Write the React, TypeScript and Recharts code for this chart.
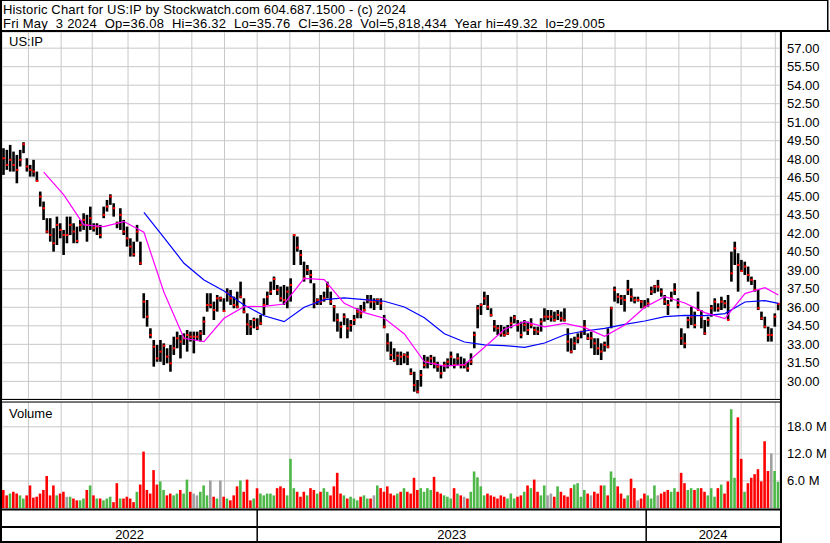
import { ComposedChart, Bar, Line, XAxis, YAxis, CartesianGrid, Cell, ReferenceDot } from 'recharts'

// two-day bars, May 2022 - May 3 2024
const highs = [
  48.89, 48.76, 49.16, 48.62, 48.35, 48.76, 49.38, 48.08, 47.54, 47.95,
  47.0, 45.38, 44.57, 43.22, 43.22, 42.41, 43.35, 42.81, 42.27, 43.35,
  43.35, 42.81, 42.54, 43.08, 43.62, 43.49, 44.16, 42.81, 42.81, 42.68,
  44.16, 44.7, 45.16, 44.43, 42.95, 44.03, 43.08, 42.54, 41.59, 41.32,
  42.68, 41.32, 37.14, 36.59, 34.3, 33.35, 32.95, 33.35, 33.08, 32.68,
  32.95, 33.62, 34.03, 33.76, 33.89, 34.16, 34.03, 34.03, 34.03, 34.16,
  35.24, 37.14, 37.14, 36.46, 37.0, 36.86, 36.73, 37.54, 37.41, 36.86,
  37.27, 38.08, 36.73, 35.51, 34.97, 35.16, 35.11, 35.38, 36.73, 37.27,
  38.08, 38.49, 37.81, 37.68, 37.81, 37.68, 38.35, 41.92, 41.73, 40.65,
  39.7, 39.43, 39.03, 37.95, 36.73, 37.0, 37.27, 38.08, 37.27, 36.19,
  35.51, 34.84, 35.51, 35.11, 34.97, 35.38, 35.92, 36.19, 36.46, 37.0,
  37.0, 36.73, 36.73, 36.73, 35.38, 33.89, 33.22, 32.68, 32.41,
  32.41, 32.27, 32.41, 31.05, 30.78, 30.11, 30.92, 32.14, 32.0, 32.14,
  32.0, 31.59, 31.32, 31.59, 31.86, 32.41, 31.86, 32.27, 32.0, 31.86,
  31.59, 32.27, 34.03, 36.19, 36.32, 37.27, 37.0, 35.92, 34.97, 34.57,
  34.57, 34.43, 34.57, 35.24, 35.38, 34.97, 34.84, 34.97, 34.84, 35.11,
  34.43, 34.43, 35.11, 35.92, 35.78, 35.78, 35.65, 35.78, 35.65, 35.92,
  34.3, 33.49, 33.62, 33.89, 34.03, 34.97, 33.89,
  34.03, 33.49, 33.49, 33.08, 33.22, 34.3, 36.05, 37.68, 37.14, 37.0,
  37.0, 38.22, 37.54, 36.86, 36.86, 36.59, 36.59, 36.73, 37.68, 37.81,
  38.22, 37.54, 37.0, 36.59, 37.27, 37.95, 36.73, 34.3, 33.89, 35.24,
  36.05, 35.65, 37.27, 35.78, 34.97, 35.24, 36.19, 36.73, 36.32, 36.86,
  36.59, 37.0, 40.51, 41.32, 40.38, 39.84, 39.7, 39.3, 38.49, 38.22,
  37.41, 35.65, 35.24, 34.43, 34.3, 35.51, 36.32,
]

const lows = [
  46.73, 47.14, 47.0, 47.0, 46.05, 47.41, 48.49, 47.0, 46.59, 46.59,
  46.19, 44.16, 43.08, 42.0, 41.32, 40.51, 41.05, 41.59, 40.24, 41.19,
  41.86, 41.19, 41.19, 42.14, 42.27, 41.32, 42.27, 42.14, 41.86, 41.59,
  43.22, 43.76, 44.3, 43.35, 42.41, 42.27, 41.86, 40.92, 40.11, 40.11,
  41.32, 39.43, 35.11, 34.43, 33.49, 31.19, 31.59, 31.59, 31.32, 31.46,
  30.78, 32.14, 32.68, 31.86, 32.95, 32.41, 33.22, 32.27, 33.35, 33.22,
  33.76, 35.65, 35.92, 34.97, 35.65, 36.46, 35.65, 36.46, 36.19, 35.92,
  35.92, 36.73, 35.51, 33.76, 33.76, 34.3, 34.16, 34.57, 35.38, 36.19,
  37.0, 37.41, 37.0, 36.46, 36.19, 35.92, 36.46, 39.43, 40.51, 39.43,
  38.08, 38.62, 37.95, 35.92, 36.19, 36.19, 36.46, 36.73, 36.19, 34.84,
  34.03, 33.49, 34.57, 33.49, 34.03, 34.57, 35.11, 35.11, 35.65, 36.32,
  35.92, 35.78, 36.19, 35.78, 34.3, 32.41, 31.73, 31.59, 31.32,
  31.32, 31.46, 31.32, 30.51, 29.16, 29.03, 29.57, 31.05, 31.05, 31.32,
  31.05, 30.78, 30.24, 30.78, 31.05, 31.32, 31.05, 31.32, 31.05, 31.05,
  30.78, 31.32, 32.68, 34.3, 35.38, 36.19, 35.78, 35.24, 34.03, 33.76,
  33.62, 33.62, 33.76, 34.3, 34.7, 34.03, 33.49, 34.03, 33.76, 34.3,
  33.76, 33.76, 34.03, 34.84, 34.97, 34.84, 34.84, 34.97, 34.84, 34.84,
  32.41, 32.27, 32.54, 33.08, 33.49, 33.76, 33.35,
  32.68, 32.14, 32.14, 31.73, 32.41, 32.68, 34.3, 36.46, 36.32, 36.19,
  35.65, 37.0, 36.46, 36.32, 36.46, 35.92, 35.92, 36.05, 37.0, 37.14,
  37.27, 36.86, 36.19, 35.38, 36.46, 37.0, 35.92, 32.95, 32.68, 34.3,
  34.57, 34.3, 35.78, 34.3, 33.76, 34.43, 35.24, 35.65, 35.65, 35.78,
  35.92, 34.97, 38.08, 39.43, 37.27, 38.89, 38.62, 38.08, 37.81, 37.27,
  35.78, 34.97, 34.3, 33.22, 33.22, 34.43, 35.76,
]

const closes = [
  48.08, 47.54, 47.95, 47.54, 47.14, 47.95, 49.22, 47.41, 47.14, 47.0,
  46.24, 44.97, 44.03, 42.14, 41.86, 41.19, 42.68, 42.27, 41.86, 41.86,
  42.68, 42.14, 41.38, 42.68, 43.08, 42.68, 43.22, 42.41, 42.54, 41.86,
  43.49, 44.16, 44.97, 44.03, 42.81, 43.49, 42.14, 41.59, 40.92, 40.3,
  42.14, 39.57, 36.46, 35.24, 33.76, 32.81, 31.86, 32.41, 32.89, 32.0,
  31.46, 32.68, 33.49, 33.22, 33.49, 33.76, 33.62, 33.62, 33.62, 33.89,
  34.84, 36.19, 36.19, 35.78, 36.73, 36.73, 35.7, 37.14, 36.73, 36.19,
  36.05, 36.86, 35.65, 34.62, 34.43, 34.97, 34.35, 34.7, 36.19, 36.86,
  37.27, 38.3, 37.41, 36.73, 36.59, 37.27, 37.81, 41.86, 40.84, 40.24,
  38.35, 39.03, 38.62, 36.32, 36.59, 36.46, 36.73, 37.68, 36.46, 36.05,
  34.97, 34.43, 35.24, 34.3, 34.57, 34.97, 35.65, 35.51, 35.78, 36.59,
  36.46, 36.46, 36.59, 36.32, 34.43, 33.08, 32.14, 31.73, 32.08,
  32.0, 32.14, 32.0, 30.65, 29.7, 29.16, 30.51, 31.32, 31.59, 31.86,
  31.46, 31.19, 30.65, 31.32, 31.59, 32.0, 31.32, 31.86, 31.32, 31.32,
  31.05, 31.59, 33.76, 35.92, 36.19, 36.73, 36.05, 35.38, 34.43, 34.3,
  33.89, 33.76, 33.89, 34.7, 35.16, 34.57, 33.76, 34.57, 34.16, 34.57,
  34.16, 34.03, 34.84, 35.24, 35.24, 35.24, 34.97, 35.38, 35.11, 34.97,
  33.22, 32.41, 33.08, 33.49, 34.03, 34.43, 33.49,
  33.49, 33.08, 32.68, 32.41, 32.95, 32.81, 35.92, 37.41, 36.86, 36.73,
  36.59, 37.41, 36.86, 36.59, 36.59, 36.46, 36.05, 36.32, 37.27, 37.68,
  37.68, 37.27, 36.46, 36.19, 36.73, 37.41, 36.19, 33.49, 33.08, 34.97,
  35.24, 34.57, 35.78, 35.24, 33.89, 34.97, 35.92, 36.46, 35.92, 36.46,
  36.32, 34.97, 38.76, 40.78, 39.43, 38.95, 39.3, 38.62, 38.22, 37.41,
  35.92, 35.11, 34.43, 33.76, 33.76, 35.24, 36.28,
]

// millions of shares
const volumes = [
  4.0, 2.8, 3.2, 3.6, 3.2, 2.8, 2.1, 2.8, 5.0, 2.3,
  2.5, 3.2, 4.0, 7.1, 2.8, 5.0, 2.8, 3.2, 3.6, 2.5,
  2.5, 2.1, 1.7, 1.7, 2.1, 4.0, 5.0, 2.8, 2.1, 2.1,
  1.7, 2.1, 2.5, 1.3, 5.5, 2.1, 2.1, 2.5, 2.1, 1.3,
  3.6, 5.2, 12.5, 4.0, 3.2, 8.4, 5.2, 5.9, 4.0, 2.8,
  3.2, 2.8, 3.2, 4.0, 3.2, 6.3, 3.6, 3.2, 2.8, 3.6,
  5.0, 2.8, 6.1, 2.5, 2.1, 6.1, 2.5, 2.1, 1.7, 2.8,
  4.8, 6.1, 3.6, 6.3, 1.7, 2.1, 4.4, 3.2, 2.8, 3.2,
  3.2, 2.8, 4.4, 4.8, 4.4, 2.8, 10.9, 4.4, 3.6, 2.5,
  3.6, 2.8, 4.4, 4.0, 3.2, 3.6, 4.4, 3.6, 2.8, 4.8,
  7.8, 3.2, 2.8, 2.1, 2.5, 2.1, 1.7, 2.5, 2.8, 2.1,
  2.1, 2.8, 5.0, 4.4, 3.6, 4.8, 3.2, 2.8, 3.2, 3.6,
  4.4, 3.6, 3.2, 6.7, 4.0, 4.4, 3.6, 4.4, 4.0, 6.9,
  3.6, 3.2, 2.8, 2.5, 2.1, 4.4, 3.2, 2.8, 2.5, 2.1,
  3.6, 8.1, 6.8, 4.8, 2.8, 3.2, 2.8, 2.5, 2.1, 2.8,
  2.5, 2.1, 3.2, 2.1, 2.5, 2.8, 3.6, 5.0, 4.4, 6.3,
  3.6, 2.8, 5.0, 2.8, 3.2, 2.5, 4.8, 3.6, 2.8, 2.5,
  4.4, 5.2, 5.5, 2.5, 4.0, 3.2, 2.8, 3.6, 3.2, 5.0,
  5.0, 2.8, 8.1, 6.7, 4.8, 3.2, 2.1, 2.8, 6.5, 4.4,
  1.7, 2.1, 3.2, 2.8, 2.1, 5.0, 2.8, 3.2, 3.6, 4.0,
  3.6, 4.4, 3.6, 7.8, 5.5, 4.0, 4.4, 4.0, 4.4, 4.4,
  3.6, 2.8, 4.4, 2.5, 4.4, 5.2, 3.2, 5.9, 21.9, 6.7,
  20.1, 10.9, 3.6, 5.5, 6.7, 7.5, 8.6, 5.9, 14.8, 8.2, 12.1, 8.2, 5.8,
]

// moving averages read every maStep bars
const maStep = 6
const maFast = [
  null, null, 46.95, 45.11, 42.68, 42.54, 42.95, 42.08, 37.22, 33.49,
  33.22, 35.11, 36.05, 36.08, 36.27, 38.35, 38.24, 36.32, 35.57, 35.11,
  33.84, 31.59, 31.24, 31.35, 32.76, 34.22, 34.84, 34.41, 34.7, 34.35,
  33.65, 34.57, 36.0, 36.86, 36.35, 35.57, 35.08, 37.11, 37.59, 37.0,
]
const maSlow = [
  null, null, null, null, null, null, null, 43.7, 41.65, 39.57,
  38.22, 37.32, 36.19, 35.32, 34.84, 36.0, 36.62, 36.76, 36.62, 36.49,
  36.03, 35.16, 33.86, 33.19, 32.95, 32.89, 32.76, 33.11, 33.78, 34.08,
  34.3, 34.62, 34.89, 35.24, 35.35, 35.32, 35.49, 36.43, 36.54, 36.32,
]

const priceTicks = [30, 31.5, 33, 34.5, 36, 37.5, 39, 40.5, 42, 43.5, 45, 46.5, 48, 49.5, 51, 52.5, 54, 55.5, 57]
const volumeTicks = [6, 12, 18]

// trading-day index of the first session of each month (Jun 2022 .. May 2024)
const tradingDays = 500
const monthStarts = [17, 38, 58, 81, 101, 122, 143, 164, 185, 204, 226, 246, 268, 288, 308, 331, 350, 373, 394, 414, 435, 455, 475, 497]
const yearLabels = ['2022', '2023', '2024']
const yearStarts = [0, 164, 414]

const N = closes.length
// bars are spread evenly over the trading days
const rows: any[] = closes.map((c, i) => ({
  t: ((i + 0.5) * tradingDays) / N,
  range: [lows[i], highs[i]],
  close: c,
  vol: volumes[i],
  dir: i === 0 ? -1 : Math.sign(c - closes[i - 1]),
}))
maFast.forEach((v, k) => {
  if (v != null) rows[Math.min(k * maStep, N - 1)].fast = v
})
maSlow.forEach((v, k) => {
  if (v != null) rows[Math.min(k * maStep, N - 1)].slow = v
})

const yearEnds = [...yearStarts.slice(1), tradingDays]
const yearMids = yearStarts.map((s, k) => (s + yearEnds[k]) / 2)

const FONT = '"Liberation Sans", Arial, sans-serif'
const GRID = '#c8c8c8'
const HEADER_1 = 'Historic Chart for US:IP by Stockwatch.com 604.687.1500 - (c) 2024'
const HEADER_2 = 'Fri May  3 2024  Op=36.08  Hi=36.32  Lo=35.76  Cl=36.28  Vol=5,818,434  Year hi=49.32  lo=29.005'

function OhlcBar(props: any) {
  const { x, y, width, height, payload } = props
  if (x == null || y == null) return null
  const top = Math.min(y, y + height)
  const h = Math.max(Math.abs(height), 1)
  const [lo, hi] = payload.range
  const cx = x + width / 2
  const cy = hi === lo ? top : top + ((hi - payload.close) / (hi - lo)) * h
  return (
    <g>
      <rect x={cx - 1.3} y={top} width={2.6} height={h} fill="#000" />
      <rect x={cx - 1} y={cy - 1} width={2.5} height={2} fill="#ff0000" />
    </g>
  )
}

function PriceTick({ x, y, payload }: any) {
  return (
    <text x={x + 7} y={y} dy={4.5} fontSize={13} fontFamily={FONT} fill="#000">
      {Number(payload.value).toFixed(2)}
    </text>
  )
}

function VolumeTick({ x, y, payload }: any) {
  return (
    <text x={x + 7} y={y} dy={4.5} fontSize={13} fontFamily={FONT} fill="#000">
      {Number(payload.value).toFixed(1) + ' M'}
    </text>
  )
}

export default function App() {
  return (
    <div
      style={{
        position: 'absolute',
        left: 0,
        top: 0,
        width: 830,
        height: 543,
        background: '#fff',
        overflow: 'hidden',
        fontFamily: FONT,
      }}
    >
      <div style={{ position: 'absolute', left: 0, top: 32 }}>
        <ComposedChart width={830} height={367} data={rows} margin={{ top: 0, right: 0, bottom: 0, left: 2 }}>
          <XAxis dataKey="t" type="number" domain={[0, tradingDays]} ticks={monthStarts} allowDataOverflow hide />
          <YAxis
            orientation="right"
            type="number"
            width={50}
            domain={[28.57, 58.31]}
            ticks={priceTicks}
            interval={0}
            allowDataOverflow
            axisLine={false}
            tickLine={false}
            tickSize={0}
            tickMargin={0}
            tick={<PriceTick />}
          />
          <CartesianGrid stroke={GRID} strokeWidth={1} />
          <Bar dataKey="range" barSize={3} shape={<OhlcBar />} isAnimationActive={false} />
          <Line dataKey="slow" stroke="#0000ff" strokeWidth={1.2} dot={false} connectNulls isAnimationActive={false} />
          <Line dataKey="fast" stroke="#ff00ff" strokeWidth={1.2} dot={false} connectNulls isAnimationActive={false} />
        </ComposedChart>
      </div>

      <div style={{ position: 'absolute', left: 0, top: 402 }}>
        <ComposedChart width={830} height={141} data={rows} margin={{ top: 0, right: 0, bottom: 35, left: 2 }}>
          <XAxis dataKey="t" type="number" domain={[0, tradingDays]} ticks={monthStarts} allowDataOverflow hide />
          <YAxis
            orientation="right"
            type="number"
            width={50}
            domain={[0, 23.5]}
            ticks={volumeTicks}
            interval={0}
            allowDataOverflow
            axisLine={false}
            tickLine={false}
            tickSize={0}
            tickMargin={0}
            tick={<VolumeTick />}
          />
          <CartesianGrid stroke={GRID} strokeWidth={1} />
          <Bar dataKey="vol" barSize={2.6} isAnimationActive={false}>
            {rows.map((r, i) => (
              <Cell key={i} fill={r.dir > 0 ? '#4db848' : r.dir < 0 ? '#ff0000' : '#a0a0a0'} />
            ))}
          </Bar>
          {/* year strip under the volume panel */}
          {yearStarts.slice(1).map((s) => (
            <ReferenceDot
              key={'sep' + s}
              x={s}
              y={0}
              ifOverflow="visible"
              shape={(p: any) => <rect x={p.cx - 0.75} y={p.cy + 1} width={1.5} height={33} fill="#000" />}
            />
          ))}
          {yearMids.map((m, k) => (
            <ReferenceDot
              key={'yr' + k}
              x={m}
              y={0}
              ifOverflow="visible"
              shape={(p: any) => (
                <text x={p.cx} y={p.cy + 30.7} textAnchor="middle" fontSize={13} fontFamily={FONT} fill="#000">
                  {yearLabels[k]}
                </text>
              )}
            />
          ))}
        </ComposedChart>
      </div>

      <svg width={830} height={543} style={{ position: 'absolute', left: 0, top: 0, pointerEvents: 'none' }}>
        <rect x={0} y={0} width={828} height={1} fill="#000" />
        <rect x={827} y={0} width={1.5} height={31} fill="#000" />
        <rect x={0} y={0} width={2} height={543} fill="#000" />
        <rect x={0} y={30} width={830} height={2} fill="#000" />
        <rect x={780} y={30} width={2} height={513} fill="#000" />
        <rect x={0} y={399} width={781} height={1} fill="#000" />
        <rect x={0} y={401.5} width={781} height={1} fill="#000" />
        <rect x={0} y={508.5} width={781} height={2} fill="#000" />
        <rect x={0} y={526} width={781} height={2} fill="#000" />
        <rect x={0} y={541} width={781} height={2} fill="#000" />
        <g fontFamily={FONT} fill="#000" fontSize={13}>
          <text x={3} y={13.5} textLength={403} lengthAdjust="spacing" xmlSpace="preserve" style={{ whiteSpace: 'pre' }}>
            {HEADER_1}
          </text>
          <text x={3} y={28} textLength={602} lengthAdjust="spacing" xmlSpace="preserve" style={{ whiteSpace: 'pre' }}>
            {HEADER_2}
          </text>
          <text x={9} y={46}>US:IP</text>
          <text x={9} y={418}>Volume</text>
        </g>
      </svg>
    </div>
  )
}
